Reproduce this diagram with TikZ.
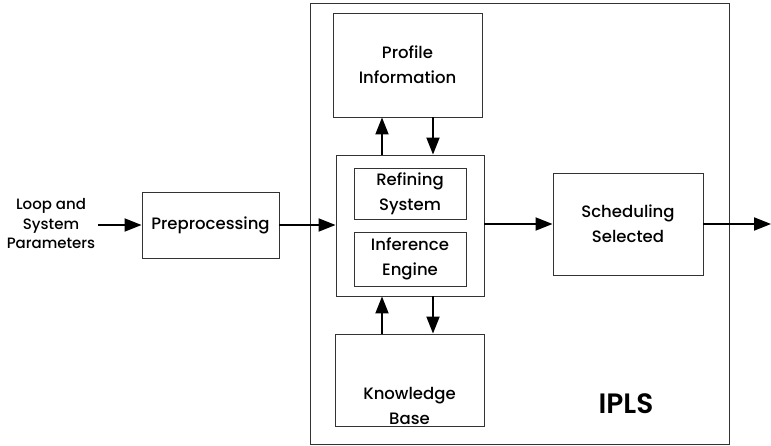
\documentclass[tikz,border=0pt]{standalone}
\usepackage{fontspec}
\setmainfont{Poppins}[UprightFont=* Medium,BoldFont=* SemiBold]
\usetikzlibrary{arrows.meta,calc}
\begin{document}
\begin{tikzpicture}[x=1pt,y=-1pt,
  box/.style={draw=black!80,line width=0.9pt,rectangle,inner sep=0pt},
  lbl/.style={align=center,font=\fontsize{16.5}{25}\selectfont},
  arr/.style={line width=1.9pt,-{Triangle[length=17pt,width=13pt]}}]
\useasboundingbox (0,0) rectangle (771,446);
\node[box,minimum width=419pt,minimum height=441pt] (ipls) at (519.5,223.5) {};
\node[box,minimum width=149pt,minimum height=104pt,lbl] (prof) at (407.5,65) {Profile\\Information};
\node[box,minimum width=148pt,minimum height=141pt] (mid) at (410,225.5) {};
\node[box,minimum width=112pt,minimum height=51pt,lbl] (ref) at (410,193.5) {Refining\\System};
\node[box,minimum width=112pt,minimum height=54pt,lbl] (inf) at (410,259) {Inference\\Engine};
\node[box,minimum width=149pt,minimum height=92pt] (kb) at (409.5,380) {};
\node[lbl,anchor=north] (kbt) at (409.5,384) {Knowledge\\Base};
\node[box,minimum width=150pt,minimum height=102pt,lbl] (sched) at (628,224) {Scheduling\\Selected};
\node[box,minimum width=137pt,minimum height=66pt,lbl] (pre) at (210.5,225) {Preprocessing};
\node[align=center,font=\fontsize{15}{19.5}\selectfont] (inl) at (51,224) {Loop and\\System\\Parameters};
\node[font=\fontsize{28}{30}\selectfont\bfseries] (iplst) at (626,404) {IPLS};
\coordinate (in) at (98,225);
\coordinate (out) at (771,224);
\coordinate (xa) at (382,0);
\coordinate (xb) at (433,0);
\draw[arr] (in) -- (in -| pre.west);
\draw[arr] (pre.east) -- (pre.east -| mid.west);
\draw[arr] (mid.east |- sched.west) -- (sched.west);
\draw[arr] (sched.east) -- (out);
\draw[arr] (xa |- mid.north) -- (xa |- prof.south);
\draw[arr] (xb |- prof.south) -- (xb |- mid.north);
\draw[arr] (xa |- kb.north) -- (xa |- mid.south);
\draw[arr] (xb |- mid.south) -- (xb |- kb.north);
\end{tikzpicture}
\end{document}
